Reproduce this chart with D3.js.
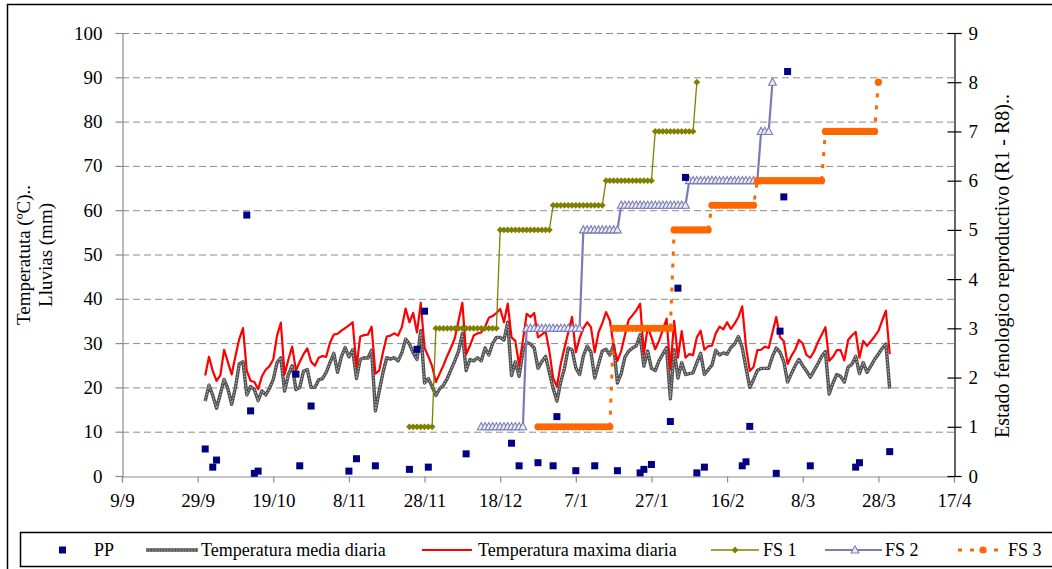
<!DOCTYPE html>
<html>
<head>
<meta charset="utf-8">
<script src="https://cdn.jsdelivr.net/npm/d3@7"></script>
<style>
  html, body { margin: 0; padding: 0; background: #fff; }
  svg { display: block; font-family: "Liberation Serif", "Times New Roman", serif; }
</style>
</head>
<body>
<svg id="chart" width="1052" height="569"></svg>
<script>
// ---- data -------------------------------------------------------------
// Daily series start on this date (one value per day)
const tempStart = "2006-10-01";

// Temperatura maxima diaria (ºC)
const tempMax = [
  22.7, 26.9, 23.7, 21.5, 22.7, 28.5, 25.7, 22.9, 27.1, 30.9,
  33.4, 23.7, 21.5, 21.2, 19.6, 22.5, 24.0, 24.8, 26.3, 31.7,
  34.6, 22.9, 26.3, 29.2, 23.8, 25.8, 27.5, 28.8, 25.8, 24.9,
  26.7, 27.1, 26.9, 30.1, 31.9, 32.1, 32.8, 33.4, 34.0, 34.7,
  24.6, 31.5, 31.8, 31.9, 33.7, 23.1, 23.8, 27.9, 31.5, 31.7,
  32.2, 31.7, 33.6, 37.8, 34.7, 36.8, 32.4, 39.1, 28.9, 27.0,
  24.8, 21.2, 23.1, 25.0, 27.1, 29.0, 31.1, 35.1, 39.1, 27.5,
  29.4, 31.7, 32.2, 32.4, 33.7, 35.7, 36.1, 36.8, 37.7, 34.7,
  38.9, 31.3, 30.5, 25.0, 30.5, 36.6, 35.9, 36.8, 31.3, 31.9,
  32.7, 28.2, 22.1, 20.2, 25.2, 28.9, 32.4, 35.9, 27.9, 31.1,
  33.4, 34.7, 33.6, 27.9, 32.4, 34.5, 37.0, 35.1, 29.4, 26.0,
  28.2, 31.9, 35.3, 36.3, 37.4, 38.9, 27.5, 33.6, 31.3, 28.6,
  30.5, 33.0, 35.5, 24.0, 35.0, 26.7, 32.7, 26.7, 27.5, 27.3,
  31.3, 32.8, 28.5, 29.3, 29.4, 32.2, 33.7, 33.1, 34.7, 33.2,
  34.4, 35.9, 38.3, 29.2, 23.7, 24.6, 28.4, 28.5, 29.2, 28.9,
  32.4, 35.9, 31.3, 30.4, 25.3, 27.1, 28.5, 30.7, 29.9, 27.3,
  26.7, 28.1, 30.2, 31.9, 33.6, 26.0, 26.9, 28.4, 28.4, 26.1,
  30.7, 31.7, 32.5, 26.7, 30.5, 29.4, 30.4, 31.5, 32.7, 35.1,
  37.3, 27.5
];

// Temperatura media diaria (ºC)
const tempMean = [
  16.9, 20.5, 18.2, 15.3, 18.5, 21.8, 19.7, 16.2, 20.0, 25.3,
  25.8, 18.3, 20.2, 19.5, 17.0, 19.2, 18.3, 19.8, 21.8, 25.6,
  26.7, 19.2, 22.9, 24.9, 19.5, 20.0, 23.7, 24.0, 20.0, 20.0,
  21.7, 22.0, 23.4, 25.6, 27.7, 23.4, 26.9, 29.0, 26.9, 28.5,
  22.0, 26.3, 26.7, 26.6, 28.4, 14.7, 19.1, 23.3, 26.7, 26.4,
  26.7, 26.0, 27.8, 30.9, 29.8, 27.8, 26.3, 32.8, 21.0, 22.0,
  20.2, 18.2, 19.7, 20.5, 22.0, 24.0, 26.0, 28.2, 32.2, 23.8,
  26.3, 26.0, 26.7, 26.0, 28.9, 27.3, 29.9, 31.3, 31.3, 30.7,
  34.7, 22.7, 25.8, 22.5, 28.1, 30.2, 29.8, 28.9, 24.3, 25.8,
  27.0, 23.4, 19.8, 16.9, 21.2, 24.3, 28.9, 28.5, 24.4, 22.9,
  27.1, 29.3, 28.0, 22.1, 25.2, 28.2, 28.6, 27.3, 29.6, 21.0,
  23.1, 26.9, 28.2, 28.9, 29.4, 31.9, 24.8, 28.2, 24.3, 23.8,
  26.0, 27.5, 29.0, 17.4, 28.5, 22.1, 25.6, 22.9, 23.1, 23.3,
  25.6, 27.7, 22.9, 24.0, 25.0, 28.4, 27.3, 27.8, 27.5, 29.0,
  29.8, 31.5, 29.0, 24.4, 20.0, 21.8, 23.8, 24.3, 24.3, 24.3,
  27.0, 28.9, 27.9, 25.8, 21.2, 23.1, 24.9, 26.3, 24.9, 23.7,
  22.3, 23.8, 25.3, 27.0, 28.1, 18.5, 21.0, 22.9, 22.5, 21.2,
  24.6, 25.2, 27.0, 23.1, 25.6, 23.4, 24.8, 26.3, 27.5, 28.8,
  29.8, 19.7
];

// PP: lluvias (mm)
const ppDates = [
  "2006-10-01", "2006-10-03", "2006-10-04", "2006-10-12", "2006-10-13", "2006-10-14",
  "2006-10-15", "2006-10-25", "2006-10-26", "2006-10-29", "2006-11-08", "2006-11-10",
  "2006-11-15", "2006-11-24", "2006-11-26", "2006-11-28", "2006-11-29", "2006-12-09",
  "2006-12-21", "2006-12-23", "2006-12-28", "2007-01-01", "2007-01-02", "2007-01-07",
  "2007-01-12", "2007-01-18", "2007-01-24", "2007-01-25", "2007-01-27", "2007-02-01",
  "2007-02-03", "2007-02-05", "2007-02-08", "2007-02-10", "2007-02-20", "2007-02-21",
  "2007-02-22", "2007-03-01", "2007-03-02", "2007-03-03", "2007-03-04", "2007-03-10",
  "2007-03-22", "2007-03-23", "2007-03-31"
];
const ppValues = [
  6.1, 2.0, 3.6, 58.9, 14.7, 0.6,
  1.1, 23.0, 2.3, 15.8, 1.1, 3.9,
  2.3, 1.5, 28.6, 37.2, 2.0, 5.0,
  7.4, 2.3, 3.0, 2.3, 13.4, 1.2,
  2.3, 1.2, 0.7, 1.5, 2.6, 12.3,
  42.4, 67.4, 0.7, 2.0, 2.3, 3.2,
  11.2, 0.6, 32.7, 63.0, 91.3, 2.3,
  2.0, 3.0, 5.5
];

// Estado fenologico (R1 - R8): one stage held from a first to a last day
const fs1From  = ["2006-11-24", "2006-12-01", "2006-12-18", "2007-01-01", "2007-01-15", "2007-01-28", "2007-02-08"];
const fs1To    = ["2006-11-30", "2006-12-17", "2006-12-31", "2007-01-14", "2007-01-27", "2007-02-07", "2007-02-08"];
const fs1Stage = [1, 3, 5, 5.5, 6, 7, 8];

const fs2From  = ["2006-12-13", "2006-12-25", "2007-01-09", "2007-01-19", "2007-02-06", "2007-02-25", "2007-02-28"];
const fs2To    = ["2006-12-24", "2007-01-08", "2007-01-18", "2007-02-05", "2007-02-24", "2007-02-27", "2007-02-28"];
const fs2Stage = [1, 3, 5, 5.5, 6, 7, 8];

const fs3From  = ["2006-12-28", "2007-01-17", "2007-02-02", "2007-02-12", "2007-02-24", "2007-03-14", "2007-03-28"];
const fs3To    = ["2007-01-16", "2007-02-01", "2007-02-11", "2007-02-23", "2007-03-13", "2007-03-27", "2007-03-28"];
const fs3Stage = [1, 3, 5, 5.5, 6, 7, 8];

// Axis ticks
const xTickDates = ["2006-09-09", "2006-09-29", "2006-10-19", "2006-11-08", "2006-11-28", "2006-12-18",
                    "2007-01-07", "2007-01-27", "2007-02-16", "2007-03-08", "2007-03-28", "2007-04-17"];
const yLeftTicks  = [0, 10, 20, 30, 40, 50, 60, 70, 80, 90, 100];
const yRightTicks = [0, 1, 2, 3, 4, 5, 6, 7, 8, 9];

// ---- helpers ----------------------------------------------------------
const parse = d3.utcParse("%Y-%m-%d");
const fmt = d3.utcFormat("%-d/%-m");
const t0 = parse(tempStart);
const maxPts  = tempMax.map((v, i) => ({ date: d3.utcDay.offset(t0, i), v }));
const meanPts = tempMean.map((v, i) => ({ date: d3.utcDay.offset(t0, i), v }));
const ppPts = ppDates.map((d, i) => ({ date: parse(d), v: ppValues[i] }));

function stagePoints(from, to, stage) {
  const pts = [];
  from.forEach((f, i) => {
    d3.utcDay.range(parse(f), d3.utcDay.offset(parse(to[i]), 1))
      .forEach(date => pts.push({ date, v: stage[i] }));
  });
  return pts;
}
const fs1Pts = stagePoints(fs1From, fs1To, fs1Stage);
const fs2Pts = stagePoints(fs2From, fs2To, fs2Stage);
const fs3Pts = stagePoints(fs3From, fs3To, fs3Stage);

// ---- layout -----------------------------------------------------------
const svg = d3.select("#chart");
const plot = { left: 122, right: 954, top: 33, bottom: 476 };

const x = d3.scaleUtc()
  .domain([parse(xTickDates[0]), parse(xTickDates[xTickDates.length - 1])])
  .range([plot.left, plot.right]);
const yL = d3.scaleLinear().domain([0, 100]).range([plot.bottom, plot.top]);
const yR = d3.scaleLinear().domain([0, 9]).range([plot.bottom, plot.top]);

const COL = {
  pp: "#000080", mean: "#505050", max: "#ff0000",
  fs1: "#808000", fs2: "#7c7cb4", fs3: "#ff6600", grid: "#8c8c8c"
};

// outer frame
svg.append("rect").attr("x", 7.5).attr("y", 4.5).attr("width", 1070).attr("height", 600)
  .attr("fill", "none").attr("stroke", "#000").attr("stroke-width", 1.5);

// horizontal gridlines
svg.append("g").selectAll("line").data(yLeftTicks.filter(d => d > 0)).join("line")
  .attr("x1", plot.left).attr("x2", plot.right)
  .attr("y1", d => yL(d) + 0.5).attr("y2", d => yL(d) + 0.5)
  .attr("stroke", COL.grid).attr("stroke-width", 1).attr("stroke-dasharray", "7,4");

// left axis
const axL = svg.append("g").attr("transform", `translate(${plot.left + 0.5},0)`)
  .call(d3.axisLeft(yL).tickValues(yLeftTicks).tickSize(7).tickPadding(13));
axL.select(".domain").attr("stroke", COL.grid).attr("stroke-width", 1.2);
axL.selectAll(".tick line").attr("stroke", COL.grid).attr("stroke-width", 1.2);
axL.selectAll("text").attr("font-size", 19).attr("font-family", "Liberation Serif").attr("fill", "#000");

// bottom axis
const axB = svg.append("g").attr("transform", `translate(0,${plot.bottom + 0.5})`)
  .call(d3.axisBottom(x).tickValues(xTickDates.map(parse)).tickFormat(fmt).tickSize(6).tickPadding(11));
axB.select(".domain").attr("stroke", COL.grid).attr("stroke-width", 1.2);
axB.selectAll(".tick line").attr("stroke", COL.grid).attr("stroke-width", 1.2);
axB.selectAll("text").attr("font-size", 19).attr("font-family", "Liberation Serif").attr("fill", "#000");

// right axis (crossing ticks)
const axR = svg.append("g").attr("transform", `translate(${plot.right + 0.5},0)`)
  .call(d3.axisRight(yR).tickValues(yRightTicks).tickSize(7).tickPadding(7));
axR.select(".domain").attr("stroke", "#000").attr("stroke-width", 1.2);
axR.selectAll(".tick line").attr("stroke", "#000").attr("stroke-width", 1.2).attr("x1", -7);
axR.selectAll("text").attr("font-size", 19).attr("font-family", "Liberation Serif").attr("fill", "#000");

// axis titles
svg.append("text").attr("transform", "translate(30,255) rotate(-90)")
  .attr("text-anchor", "middle").attr("font-size", 19).text("Temperatuta (ºC)..");
svg.append("text").attr("transform", "translate(52,255) rotate(-90)")
  .attr("text-anchor", "middle").attr("font-size", 19).text("Lluvias (mm)");
svg.append("text").attr("transform", "translate(1009,266) rotate(-90)")
  .attr("text-anchor", "middle").attr("font-size", 20).text("Estado fenologico reproductivo (R1 - R8)..");

// ---- series -----------------------------------------------------------
const lineL = d3.line().x(d => x(d.date)).y(d => yL(d.v));
const lineR = d3.line().x(d => x(d.date)).y(d => yR(d.v));

// Temperatura media diaria: textured grey line
svg.append("path").datum(meanPts).attr("d", lineL).attr("fill", "none")
  .attr("stroke", COL.mean).attr("stroke-width", 3.4).attr("stroke-linejoin", "round");
svg.append("path").datum(meanPts).attr("d", lineL).attr("fill", "none")
  .attr("stroke", "#b4b4b4").attr("stroke-width", 1.1).attr("stroke-dasharray", "1.5,1.5");

// Temperatura maxima diaria
svg.append("path").datum(maxPts).attr("d", lineL).attr("fill", "none")
  .attr("stroke", COL.max).attr("stroke-width", 2.2).attr("stroke-linejoin", "round");

const diamond = "M0,-3.4L3.4,0L0,3.4L-3.4,0Z";
const triangle = "M0,-4.2L3.9,3L-3.9,3Z";

// FS 1
svg.append("path").datum(fs1Pts).attr("d", lineR).attr("fill", "none")
  .attr("stroke", COL.fs1).attr("stroke-width", 1.3);
svg.append("g").selectAll("path").data(fs1Pts).join("path")
  .attr("transform", d => `translate(${x(d.date)},${yR(d.v)})`)
  .attr("d", diamond).attr("fill", COL.fs1);

// FS 2
svg.append("path").datum(fs2Pts).attr("d", lineR).attr("fill", "none")
  .attr("stroke", COL.fs2).attr("stroke-width", 2.2);
svg.append("g").selectAll("path").data(fs2Pts).join("path")
  .attr("transform", d => `translate(${x(d.date)},${yR(d.v)})`)
  .attr("d", triangle).attr("fill", "#ececf6").attr("stroke", COL.fs2).attr("stroke-width", 1.1);

// FS 3
svg.append("path").datum(fs3Pts).attr("d", lineR).attr("fill", "none")
  .attr("stroke", COL.fs3).attr("stroke-width", 3).attr("stroke-dasharray", "4,8");
svg.append("g").selectAll("circle").data(fs3Pts).join("circle")
  .attr("cx", d => x(d.date)).attr("cy", d => yR(d.v)).attr("r", 3.6).attr("fill", COL.fs3);

// PP squares
svg.append("g").selectAll("rect").data(ppPts).join("rect")
  .attr("x", d => x(d.date) - 3.5).attr("y", d => yL(d.v) - 3.5)
  .attr("width", 7).attr("height", 7).attr("fill", COL.pp);

// ---- legend -----------------------------------------------------------
const lg = svg.append("g");
lg.append("rect").attr("x", 20.5).attr("y", 532.5).attr("width", 1060).attr("height", 34)
  .attr("fill", "#fff").attr("stroke", "#000").attr("stroke-width", 1.5);
const ly = 550;
const legendText = (tx, label) => lg.append("text").attr("x", tx).attr("y", ly + 6)
  .attr("font-size", 18).text(label);

lg.append("rect").attr("x", 59).attr("y", ly - 3.5).attr("width", 7).attr("height", 7).attr("fill", COL.pp);
legendText(94, "PP");

lg.append("line").attr("x1", 146).attr("x2", 198).attr("y1", ly).attr("y2", ly)
  .attr("stroke", COL.mean).attr("stroke-width", 3.4);
lg.append("line").attr("x1", 146).attr("x2", 198).attr("y1", ly).attr("y2", ly)
  .attr("stroke", "#b4b4b4").attr("stroke-width", 1.1).attr("stroke-dasharray", "1.5,1.5");
legendText(201, "Temperatura media diaria");

lg.append("line").attr("x1", 422).attr("x2", 472).attr("y1", ly).attr("y2", ly)
  .attr("stroke", COL.max).attr("stroke-width", 2.2);
legendText(478, "Temperatura maxima diaria");

lg.append("line").attr("x1", 711).attr("x2", 759).attr("y1", ly).attr("y2", ly)
  .attr("stroke", COL.fs1).attr("stroke-width", 1.3);
lg.append("path").attr("transform", `translate(735,${ly})`).attr("d", diamond).attr("fill", COL.fs1);
legendText(763, "FS 1");

lg.append("line").attr("x1", 825).attr("x2", 882).attr("y1", ly).attr("y2", ly)
  .attr("stroke", COL.fs2).attr("stroke-width", 2.2);
lg.append("path").attr("transform", `translate(855,${ly})`).attr("d", triangle)
  .attr("fill", "#ececf6").attr("stroke", COL.fs2).attr("stroke-width", 1.1);
legendText(885, "FS 2");

lg.append("line").attr("x1", 958).attr("x2", 1006).attr("y1", ly).attr("y2", ly)
  .attr("stroke", COL.fs3).attr("stroke-width", 3).attr("stroke-dasharray", "4,8");
lg.append("circle").attr("cx", 983).attr("cy", ly).attr("r", 3.6).attr("fill", COL.fs3);
legendText(1008, "FS 3");
</script>
</body>
</html>
